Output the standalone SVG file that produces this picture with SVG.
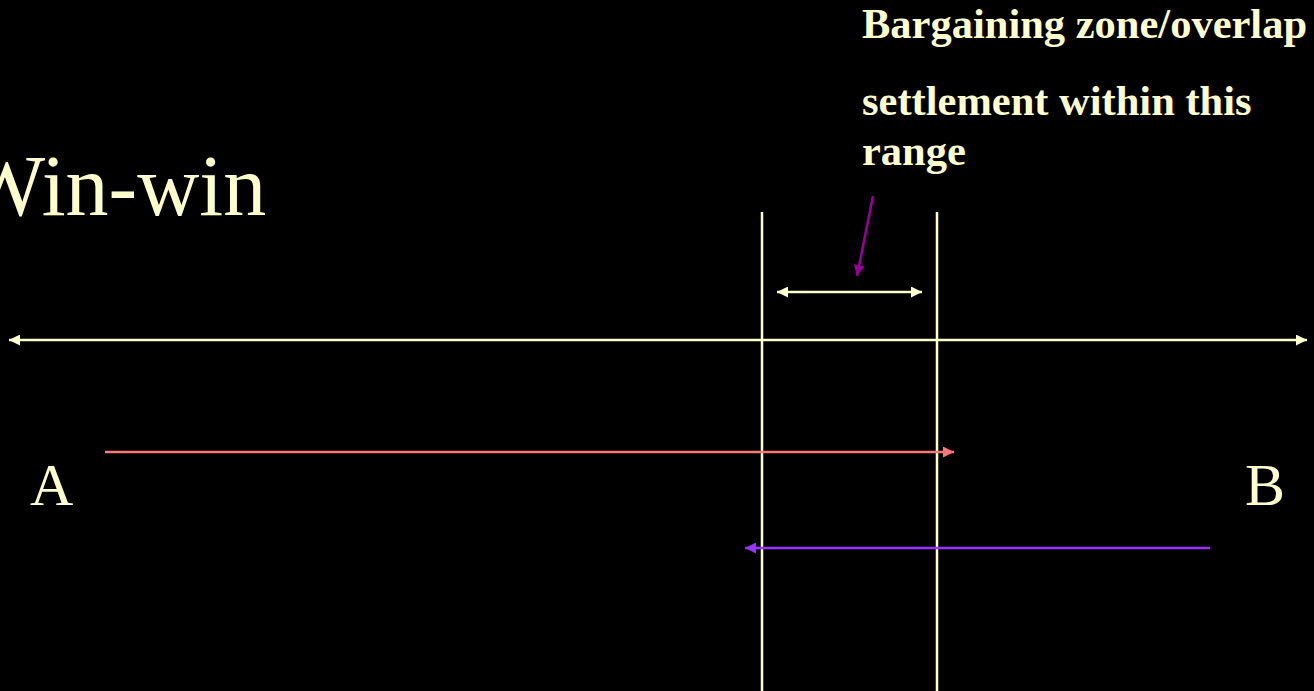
<svg xmlns="http://www.w3.org/2000/svg" width="1314" height="691" viewBox="0 0 1314 691">
<style>
.t{fill:#FFFFCC;font-family:"Liberation Serif","Times New Roman",serif}
.b{font-weight:bold;font-size:42.5px}
.ln{stroke:#FFFFCC;stroke-width:2.5;fill:none}
</style>
<defs>
<marker id="ay" viewBox="0 0 10 10" refX="10" refY="5" markerWidth="12" markerHeight="11" markerUnits="userSpaceOnUse" orient="auto-start-reverse"><path d="M0,0L10,5L0,10z" fill="#FFFFCC"/></marker>
<marker id="ar" viewBox="0 0 10 10" refX="10" refY="5" markerWidth="12" markerHeight="11" markerUnits="userSpaceOnUse" orient="auto"><path d="M0,0L10,5L0,10z" fill="#FF7777"/></marker>
<marker id="av" viewBox="0 0 10 10" refX="10" refY="5" markerWidth="12" markerHeight="11" markerUnits="userSpaceOnUse" orient="auto"><path d="M0,0L10,5L0,10z" fill="#9933FF"/></marker>
<marker id="am" viewBox="0 0 10 10" refX="10" refY="5" markerWidth="12" markerHeight="11" markerUnits="userSpaceOnUse" orient="auto"><path d="M0,0L10,5L0,10z" fill="#990099"/></marker>
</defs>
<rect width="1314" height="691" fill="#000"/>
<g id="title"><text class="t" x="-36" y="215" font-size="86">Win-win</text></g>
<g id="label-zone"><text class="t b" x="862" y="38">Bargaining zone/overlap</text></g>
<g id="label-settlement"><text class="t b" x="862" y="115">settlement within this</text><text class="t b" x="862" y="165">range</text></g>
<g id="label-A"><text class="t" x="30" y="505" font-size="60">A</text></g>
<g id="label-B"><text class="t" x="1245" y="505" font-size="60">B</text></g>
<g id="connectors">
<line class="ln" x1="762" y1="212" x2="762" y2="691"/>
<line class="ln" x1="937" y1="212" x2="937" y2="691"/>
<line class="ln" x1="9" y1="340" x2="1307" y2="340" marker-start="url(#ay)" marker-end="url(#ay)"/>
<line class="ln" x1="777" y1="292" x2="922" y2="292" marker-start="url(#ay)" marker-end="url(#ay)"/>
<line x1="873" y1="196" x2="857" y2="276" stroke="#990099" stroke-width="2.5" marker-end="url(#am)"/>
<line x1="105" y1="452" x2="954" y2="452" stroke="#FF7777" stroke-width="2.5" marker-end="url(#ar)"/>
<line x1="1210" y1="548" x2="745" y2="548" stroke="#9933FF" stroke-width="2.5" marker-end="url(#av)"/>
</g>
</svg>
